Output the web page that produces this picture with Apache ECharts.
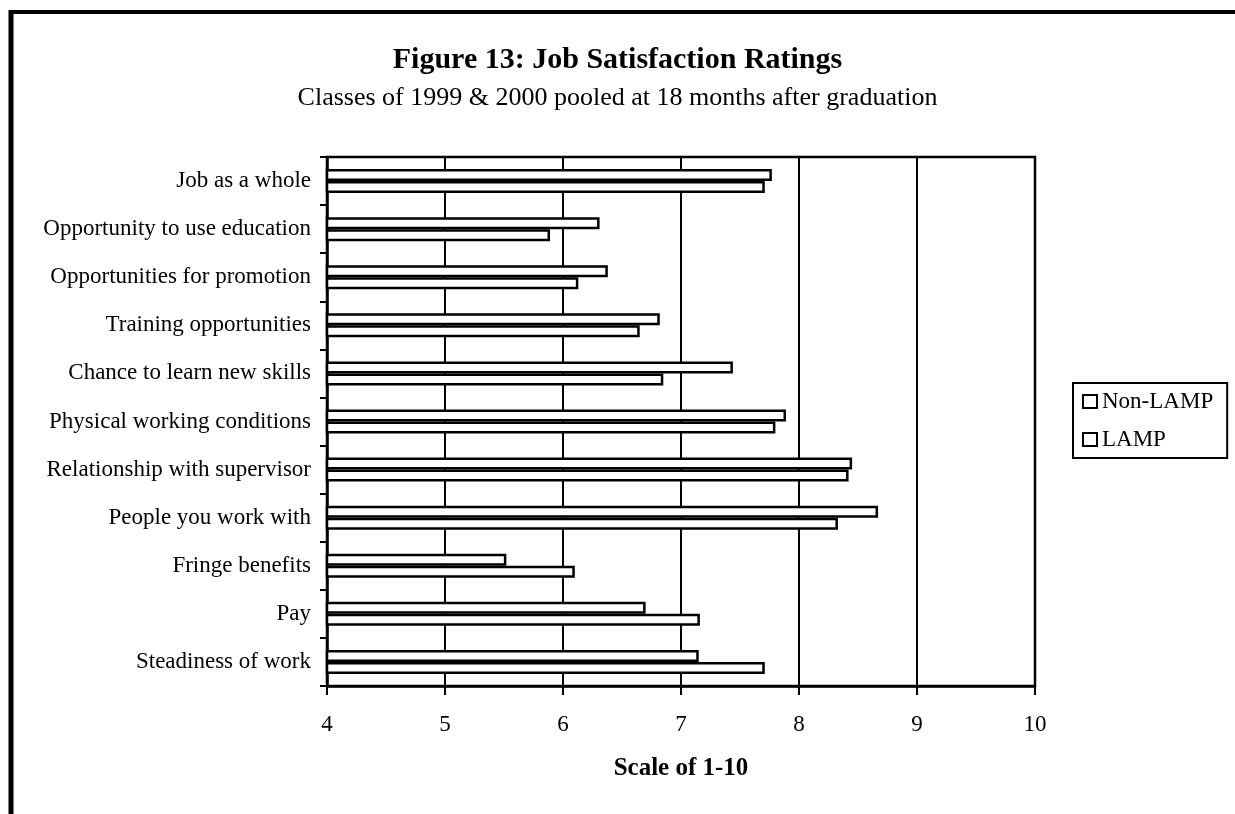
<!DOCTYPE html>
<html>
<head>
<meta charset="utf-8">
<script src="https://cdn.jsdelivr.net/npm/echarts@6/dist/echarts.min.js"></script>
<style>html,body{margin:0;padding:0;background:#fff}#c{width:1235px;height:814px}</style>
</head>
<body>
<div id="c"></div>
<script>
// categories listed top to bottom
var categories = ["Job as a whole","Opportunity to use education","Opportunities for promotion","Training opportunities","Chance to learn new skills","Physical working conditions","Relationship with supervisor","People you work with","Fringe benefits","Pay","Steadiness of work"];
var nonLamp = [7.77, 6.31, 6.38, 6.82, 7.44, 7.89, 8.45, 8.67, 5.52, 6.70, 7.15];
var lamp    = [7.71, 5.89, 6.13, 6.65, 6.85, 7.80, 8.42, 8.33, 6.10, 7.16, 7.71];
var seriesNames = ["Non-LAMP", "LAMP"];
var xTicks = {min: 4, max: 10, interval: 1};

var FONT = "'Liberation Serif', 'Times New Roman', serif";
var chart = echarts.init(document.getElementById('c'), null, {renderer: 'canvas'});
var barStyle = {color: '#fff', borderColor: '#000', borderWidth: 2.5};
chart.setOption({
  backgroundColor: '#fff',
  animation: false,
  title: [
    {text: 'Figure 13: Job Satisfaction Ratings', left: 'center', top: 40,
     textStyle: {fontFamily: FONT, fontSize: 30, fontWeight: 'bold', color: '#000'}},
    {text: 'Classes of 1999 & 2000 pooled at 18 months after graduation', left: 'center', top: 80,
     textStyle: {fontFamily: FONT, fontSize: 26, fontWeight: 'normal', color: '#000'}}
  ],
  legend: {
    data: seriesNames, orient: 'vertical', left: 1073, top: 383,
    padding: [7, 14, 7, 9], itemWidth: 14, itemHeight: 13, itemGap: 15,
    borderColor: '#000', borderWidth: 2, icon: 'rect',
    itemStyle: {color: '#fff', borderColor: '#000', borderWidth: 2},
    textStyle: {fontFamily: FONT, fontSize: 23, color: '#000'}
  },
  grid: {left: 327, right: 200, top: 157, bottom: 128, show: true, borderColor: '#000', borderWidth: 2.5, containLabel: false},
  xAxis: {
    type: 'value', min: xTicks.min, max: xTicks.max, interval: xTicks.interval,
    name: 'Scale of 1-10', nameLocation: 'middle', nameGap: 70,
    nameTextStyle: {fontFamily: FONT, fontSize: 25, fontWeight: 'bold', color: '#000'},
    axisLine: {show: true, lineStyle: {color: '#000', width: 2.5}},
    axisTick: {show: true, length: 9, lineStyle: {color: '#000', width: 2}},
    axisLabel: {margin: 27, fontFamily: FONT, fontSize: 23, color: '#000'},
    splitLine: {show: true, lineStyle: {color: '#000', width: 2}}
  },
  yAxis: {
    type: 'category', data: categories, inverse: true,
    axisLine: {show: true, lineStyle: {color: '#000', width: 2.5}},
    axisTick: {show: true, length: 7, lineStyle: {color: '#000', width: 2}},
    axisLabel: {margin: 16, fontFamily: FONT, fontSize: 23, color: '#000'},
    splitLine: {show: false}
  },
  series: [
    {name: seriesNames[0], type: 'bar', data: nonLamp, barWidth: 12, barGap: '0%', startValue: 4, itemStyle: barStyle},
    {name: seriesNames[1], type: 'bar', data: lamp, barWidth: 12, barGap: '0%', startValue: 4, itemStyle: barStyle}
  ],
  graphic: [
    {type: 'line', shape: {x1: 9, y1: 12, x2: 1240, y2: 12}, style: {stroke: '#000', lineWidth: 4}, z: 100},
    {type: 'line', shape: {x1: 11, y1: 10, x2: 11, y2: 820}, style: {stroke: '#000', lineWidth: 5}, z: 100}
  ]
});
</script>
</body>
</html>
